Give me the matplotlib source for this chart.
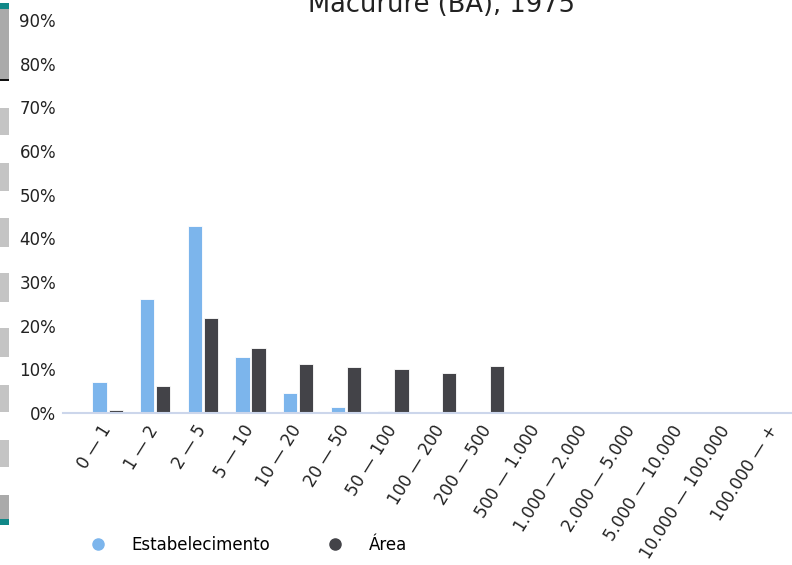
import matplotlib
matplotlib.use("Agg")
import matplotlib.pyplot as plt
from matplotlib.patches import Rectangle
from matplotlib.lines import Line2D
import numpy as np

plt.rcParams["font.family"] = ["DejaVu Sans"]

categories = ["0 — 1", "1 — 2", "2 — 5", "5 — 10", "10 — 20", "20 — 50", "50 — 100",
              "100 — 200", "200 — 500", "500 — 1.000", "1.000 — 2.000", "2.000 — 5.000",
              "5.000 — 10.000", "10.000 — 100.000", "100.000 — +"]
estabelecimento = [7.1, 26.1, 42.8, 12.8, 4.6, 1.4, 0.4, 0.1, 0, 0, 0, 0, 0, 0, 0]
area = [0.6, 6.2, 21.8, 14.9, 11.2, 10.5, 10.1, 9.2, 10.8, 0, 0, 0, 0, 0, 0]
yticks = [0, 10, 20, 30, 40, 50, 60, 70, 80, 90]
title = "Macururé (BA), 1975"
series_names = ["Estabelecimento", "Área"]
colors = ["#7cb5ec", "#434348"]

W, H = 792, 565
fig = plt.figure(figsize=(W / 100, H / 100), dpi=100)

def fx(px):
    return px / W

def fy(py):
    return 1 - py / H

ax = fig.add_axes([fx(63), fy(413), fx(792) - fx(63), fy(20) - fy(413)])
x = np.arange(len(categories))
w = 0.30
ax.bar(x - 0.155, estabelecimento, width=w, color=colors[0], edgecolor="white", linewidth=0.6)
ax.bar(x + 0.185, area, width=w, color=colors[1], edgecolor="white", linewidth=0.6)
ax.set_xlim(-0.92, 14.38)
ax.set_ylim(0, 90)
ax.set_yticks(yticks)
ax.set_yticklabels([f"{v}%" for v in yticks], fontsize=12, color="#222222")
ax.set_xticks(x)
ax.set_xticklabels(categories, rotation=58, ha="right", va="center", rotation_mode="anchor",
                   fontsize=12, color="#222222")
ax.tick_params(axis="both", length=0)
ax.tick_params(axis="y", pad=5)
ax.tick_params(axis="x", pad=10)
for s in ["top", "right", "left"]:
    ax.spines[s].set_visible(False)
ax.spines["bottom"].set_color("#ccd6eb")
ax.spines["bottom"].set_linewidth(1.5)

fig.text(fx(442), fy(12), title, ha="center", va="baseline", fontsize=18.5, color="#222222")

handles = [Line2D([], [], marker="o", linestyle="none", markersize=8, color=c) for c in colors]
fig.legend(handles, series_names, loc="center left", bbox_to_anchor=(fx(90), fy(545)),
           ncol=2, frameon=False, fontsize=12, handlelength=1.0, handletextpad=1.5,
           columnspacing=3.4, borderpad=0, borderaxespad=0)

# left decorative strip
def rect(y0, y1, color):
    fig.add_artist(Rectangle((fx(0), fy(y1)), fx(9), fy(y0) - fy(y1), transform=fig.transFigure,
                             color=color, linewidth=0))

rect(5, 80, "#aaaaaa")
rect(3, 9, "#118888")
rect(79, 81, "#111111")
for y0, y1 in [(108, 135), (163, 191), (218, 247), (273, 302), (328, 357), (385, 412), (440, 467)]:
    rect(y0, y1, "#c4c4c4")
rect(495, 523, "#aaaaaa")
rect(519, 525, "#118888")

fig.savefig("out.png", dpi=100)
